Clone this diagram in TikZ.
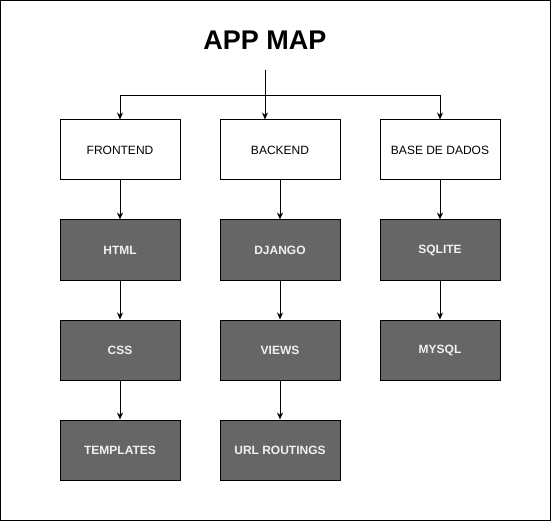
\documentclass[tikz,border=0pt]{standalone}
\usepackage{fontspec}
\setmainfont{Liberation Sans}
\usetikzlibrary{arrows.meta}
\begin{document}
\begin{tikzpicture}[x=1pt,y=-1pt,
  lightbox/.style={draw=black,line width=1pt,fill=white,minimum width=120pt,minimum height=60pt,inner sep=0pt,font=\fontsize{12}{14}\selectfont,text=black},
  darkbox/.style={draw=black,line width=1pt,fill=black!60,minimum width=120pt,minimum height=60pt,inner sep=0pt,font=\fontsize{12}{14}\selectfont\bfseries,text=white!94!black},
  conn/.style={draw=black,line width=1pt,-{Stealth[length=7pt,width=6pt]}}]
\useasboundingbox (0,0) rectangle (551,521);
\draw[line width=1pt] (0.5,0.5) rectangle (550.5,520.5);
\node[font=\fontsize{27}{30}\selectfont\bfseries] (title) at (265,40) {APP MAP};
\coordinate (start) at (265,70);
\coordinate (split) at (265,96);
\node[lightbox] (fe) at (120,150) {FRONTEND};
\node[lightbox] (be) at (280,150) {BACKEND};
\node[lightbox] (db) at (440,150) {BASE DE DADOS};
\node[darkbox] (html) at (120,250) {HTML};
\node[darkbox] (css) at (120,350) {CSS};
\node[darkbox] (tpl) at (120,450) {TEMPLATES};
\node[darkbox] (dj) at (280,250) {DJANGO};
\node[darkbox] (views) at (280,350) {VIEWS};
\node[darkbox] (url) at (280,450) {URL ROUTINGS};
\node[darkbox] (sql) at (440,250) {SQLITE};
\node[darkbox] (my) at (440,350) {MYSQL};
\draw[conn] (start) -- (start |- be.north);
\draw[conn] (split) -| (fe.north);
\draw[conn] (split) -| (db.north);
\draw[conn] (fe) -- (html);
\draw[conn] (html) -- (css);
\draw[conn] (css) -- (tpl);
\draw[conn] (be) -- (dj);
\draw[conn] (dj) -- (views);
\draw[conn] (views) -- (url);
\draw[conn] (db) -- (sql);
\draw[conn] (sql) -- (my);
\end{tikzpicture}
\end{document}
